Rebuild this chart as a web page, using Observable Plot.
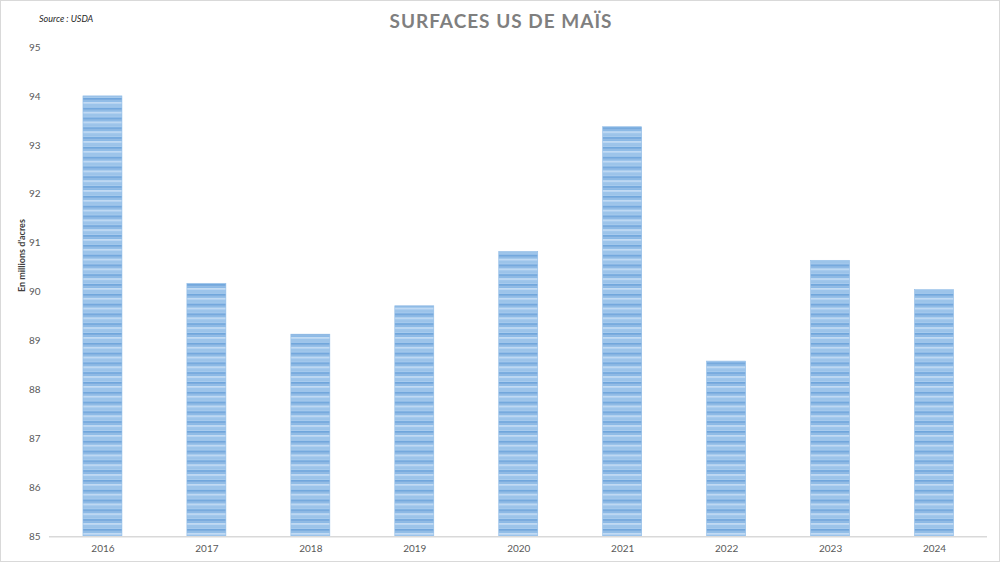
<!DOCTYPE html>
<html>
<head>
<meta charset="utf-8">
<script src="https://cdn.jsdelivr.net/npm/d3@7"></script>
<script src="https://cdn.jsdelivr.net/npm/@observablehq/plot@0.6"></script>
<style>
  html, body { margin: 0; padding: 0; background: #fff; }
  #wrap { position: relative; width: 1000px; height: 562px; box-sizing: border-box; border: 1.5px solid #d9d9d9; overflow: hidden; font-family: Lato, "Open Sans", sans-serif; }
  #chart { position: absolute; left: -1.5px; top: -1.5px; }
  #title { position: absolute; left: 0; width: 1000px; top: 8px; text-align: center; font-size: 19px; font-weight: bold; color: #7f7f7f; letter-spacing: 1px; }
  #source { position: absolute; left: 38px; top: 12px; font-size: 9px; font-style: italic; color: #262626; }
</style>
</head>
<body>
<div id="wrap">
  <div id="chart"></div>
  <div id="title">SURFACES US DE MAÏS</div>
  <div id="source">Source : USDA</div>
</div>
<script>
const years = ["2016", "2017", "2018", "2019", "2020", "2021", "2022", "2023", "2024"];
const acres = [94.0, 90.17, 89.13, 89.71, 90.82, 93.37, 88.58, 90.64, 90.04];
const yTicks = [85, 86, 87, 88, 89, 90, 91, 92, 93, 94, 95];
const yLabel = "En millions d'acres";

const data = years.map((y, i) => ({year: y, value: acres[i]}));

const chart = Plot.plot({
  width: 1000,
  height: 562,
  marginLeft: 49,
  marginRight: 12.5,
  marginTop: 47,
  marginBottom: 25.5,
  style: {fontFamily: "Lato, 'Open Sans', sans-serif", fontSize: "10px", color: "#595959", background: "transparent"},
  x: {domain: years, paddingInner: 0.625, paddingOuter: 0.3125, label: null, tickSize: 0, tickPadding: 8},
  y: {domain: [85, 95], ticks: yTicks, tickFormat: d3.format("d"), label: null, tickSize: 0, tickPadding: 9},
  marks: [
    Plot.barY(data, {x: "year", y1: 85, y2: "value", fill: "url(#stripes)", stroke: "#8fbbe6", strokeWidth: 0.6}),
    Plot.ruleY([85], {stroke: "#d9d9d9", strokeWidth: 1.3}),
    Plot.axisX({tickSize: 0, tickPadding: 8, fill: "#595959"}),
    Plot.axisY({ticks: yTicks, tickFormat: d3.format("d"), tickSize: 0, tickPadding: 9, fill: "#595959", label: null}),
    Plot.text([yLabel], {frameAnchor: "left", dx: -27, rotate: -90, text: d => d, fontWeight: "bold", fontSize: 9, fill: "#404040"})
  ]
});

// Stripe pattern definition
const ns = "http://www.w3.org/2000/svg";
const defs = document.createElementNS(ns, "defs");
const pat = document.createElementNS(ns, "pattern");
pat.setAttribute("id", "stripes");
pat.setAttribute("patternUnits", "userSpaceOnUse");
pat.setAttribute("width", "10");
pat.setAttribute("height", "9.8");
const stripes = [
  [0, 1.2, "#6fa6dc"],
  [1.2, 1.4, "#5f9ad6"],
  [2.6, 1.6, "#8ab9e6"],
  [4.2, 1.6, "#b7d4f1"],
  [5.8, 1.4, "#9cc4eb"],
  [7.2, 1.4, "#7aaee0"],
  [8.6, 1.2, "#a8cbee"]
];
for (const [y, h, c] of stripes) {
  const r = document.createElementNS(ns, "rect");
  r.setAttribute("x", 0); r.setAttribute("y", y);
  r.setAttribute("width", 10); r.setAttribute("height", h);
  r.setAttribute("fill", c);
  pat.appendChild(r);
}
defs.appendChild(pat);
chart.insertBefore(defs, chart.firstChild);

document.getElementById("chart").appendChild(chart);
</script>
</body>
</html>
